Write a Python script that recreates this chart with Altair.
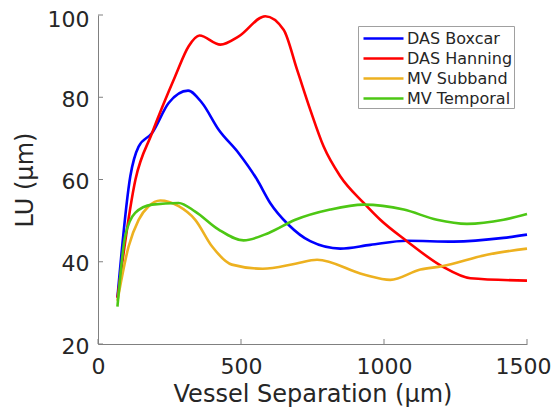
import altair as alt
import pandas as pd

series_names = ["DAS Boxcar", "DAS Hanning", "MV Subband", "MV Temporal"]
series_colors = ["#0000FF", "#FF0000", "#EDB120", "#4DC714"]

boxcar_x = [68, 113, 142, 189, 247, 315, 364, 422, 492, 556, 602, 666, 742, 847, 952, 1080, 1243, 1418, 1500]
boxcar_y = [31.3, 60.8, 68.0, 71.3, 78.6, 81.6, 78.6, 72.1, 66.4, 60.0, 54.3, 49.0, 45.0, 43.2, 44.1, 45.1, 44.9, 45.8, 46.6]

hanning_x = [68, 131, 189, 270, 317, 355, 428, 492, 585, 649, 696, 742, 789, 847, 929, 987, 1080, 1203, 1302, 1500]
hanning_y = [31.2, 60.0, 71.3, 85.1, 92.4, 95.0, 92.8, 94.8, 99.7, 96.4, 86.7, 77.0, 68.0, 60.8, 54.3, 50.2, 45.0, 38.9, 36.0, 35.4]

subband_x = [68, 107, 142, 177, 218, 282, 340, 399, 468, 576, 690, 766, 929, 1022, 1127, 1203, 1360, 1500]
subband_y = [30.5, 43.7, 50.2, 53.5, 54.9, 53.5, 50.2, 43.7, 39.3, 38.3, 39.5, 40.5, 36.9, 35.6, 38.1, 38.9, 41.7, 43.2]

temporal_x = [68, 95, 130, 189, 282, 340, 422, 509, 597, 690, 812, 929, 1069, 1185, 1290, 1418, 1500]
temporal_y = [29.1, 46.2, 51.9, 53.9, 54.3, 52.2, 47.8, 45.2, 47.0, 50.2, 52.7, 53.9, 52.7, 50.2, 49.2, 50.2, 51.6]

x_ticks = [0, 500, 1000, 1500]
y_ticks = [20, 40, 60, 80, 100]

rows = []
for name, xs, ys in [
    ("DAS Boxcar", boxcar_x, boxcar_y),
    ("DAS Hanning", hanning_x, hanning_y),
    ("MV Subband", subband_x, subband_y),
    ("MV Temporal", temporal_x, temporal_y),
]:
    for i, (xv, yv) in enumerate(zip(xs, ys)):
        rows.append({"sep": xv, "lu": yv, "series": name, "order": i})
df = pd.DataFrame(rows)

W, H = 429, 329
FONT = "DejaVu Sans"

xscale = alt.Scale(domain=[0, 1500], nice=False, zero=False)
yscale = alt.Scale(domain=[20, 100], nice=False, zero=False)
xaxis = alt.Axis(values=x_ticks, format="d", title="Vessel Separation (μm)", tickSize=0,
                 labelFlush=False, labelOverlap=False, labelPadding=12,
                 labelOffset={"condition": {"test": "datum.value == 1500", "value": -4}, "value": 0},
                 titlePadding=5, titleFontSize=24)
yaxis = alt.Axis(values=y_ticks, format="d", title="LU (μm)", tickSize=0,
                 labelFlush=False, labelOverlap=False, labelPadding=9,
                 labelOffset={"condition": {"test": "datum.value == 100", "value": 4}, "value": 2},
                 titlePadding=10, titleFontSize=24)

lines = alt.Chart(df).mark_line(strokeWidth=2.6, interpolate="monotone").encode(
    x=alt.X("sep:Q", scale=xscale, axis=xaxis),
    y=alt.Y("lu:Q", scale=yscale, axis=yaxis),
    color=alt.Color("series:N", scale=alt.Scale(domain=series_names, range=series_colors),
                    legend=alt.Legend(title=None, orient="none", legendX=260, legendY=11,
                                      symbolType="M-0.7,0H3.3", symbolSize=400, symbolStrokeWidth=2.6,
                                      labelFontSize=16, labelFont=FONT, labelColor="#262626",
                                      labelOffset=25, rowPadding=0, padding=1,
                                      strokeColor="#A0A0A0", fillColor="white")),
    order="order:Q",
)

xt = alt.Chart(pd.DataFrame({"sep": x_ticks})).mark_rule(color="#808080", strokeWidth=1).encode(
    x=alt.X("sep:Q", scale=xscale, axis=xaxis),
    y=alt.value(H), y2=alt.value(H - 5),
)
yt = alt.Chart(pd.DataFrame({"lu": y_ticks})).mark_rule(color="#808080", strokeWidth=1).encode(
    y=alt.Y("lu:Q", scale=yscale, axis=yaxis),
    x=alt.value(0), x2=alt.value(5),
)

chart = alt.layer(lines, xt, yt).properties(
    width=W, height=H,
    autosize=alt.AutoSizeParams(type="none"),
    padding={"left": 90, "top": 7, "right": 24, "bottom": 63},
).configure_view(stroke=None).configure_axis(
    domainColor="#808080", domainWidth=1, grid=False,
    labelFont=FONT, labelFontSize=22, labelColor="#262626",
    titleFont=FONT, titleColor="#262626", titleFontWeight="normal",
)

chart.save("out.html", embed_options={"renderer": "svg", "actions": False})
